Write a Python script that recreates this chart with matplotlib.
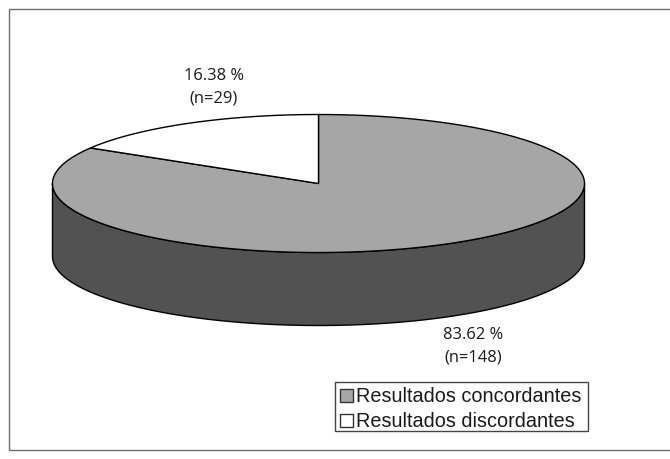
import numpy as np
import matplotlib
matplotlib.use("Agg")
import matplotlib.pyplot as plt
from matplotlib.patches import Polygon, Rectangle

categories = ["Resultados concordantes", "Resultados discordantes"]
counts = [148, 29]
percents = ["83.62 %", "16.38 %"]
colors = ["#a6a6a6", "#ffffff"]
side_color = "#525252"

W, H = 670, 460
fig = plt.figure(figsize=(W/100, H/100), dpi=100)
ax = fig.add_axes([0, 0, 1, 1])
ax.set_xlim(0, W); ax.set_ylim(H, 0); ax.axis("off")

ax.add_patch(Rectangle((9, 10), 680, 441, fc="white", ec="#6e6e6e", lw=1.0))

cx, cy, rx, ry, depth = 318.5, 184.5, 266, 69, 73
def pt(t):
    return cx + rx*np.cos(t), cy - ry*np.sin(t)

# side wall
t = np.linspace(np.pi, 2*np.pi, 200)
x, y = pt(t)
wall = np.column_stack([np.r_[x, x[::-1]], np.r_[y + depth, y[::-1]]])
ax.add_patch(Polygon(wall, fc=side_color, ec="black", lw=1.0, joinstyle="round"))

# top slices: white slice runs counter-clockwise from 12 o'clock, grey takes the rest
total = sum(counts)
sweep_white = 2*np.pi*counts[1]/total
start = np.pi/2
spans = [(start + sweep_white, start + 2*np.pi), (start, start + sweep_white)]
for (a, b), c in zip(spans, colors):
    t = np.linspace(a, b, 300)
    x, y = pt(t)
    ax.add_patch(Polygon(np.column_stack([np.r_[cx, x], np.r_[cy, y]]),
                         fc=c, ec="black", lw=1.0, joinstyle="miter"))

lab = dict(family="Open Sans", fontsize=11.9, color="#1a1a1a", ha="center", va="center")
ax.text(214, 76.5, percents[1], **lab)
ax.text(214, 98.5, f"(n={counts[1]})", **lab)
ax.text(473, 335, percents[0], **lab)
ax.text(473, 358, f"(n={counts[0]})", **lab)

# legend
ax.add_patch(Rectangle((334.5, 382.5), 253, 49.5, fc="white", ec="#444444", lw=1.0))
for yy, c, name, dy in zip([396, 420.5], colors, categories, [0.5, 1.5]):
    ax.add_patch(Rectangle((339.5, yy-6), 13, 13, fc=c, ec="#333333", lw=1.0))
    ax.text(356, yy+dy, name, family="Liberation Sans", fontsize=14.3, color="#1a1a1a",
            ha="left", va="center")

fig.savefig("out.png", dpi=100)
